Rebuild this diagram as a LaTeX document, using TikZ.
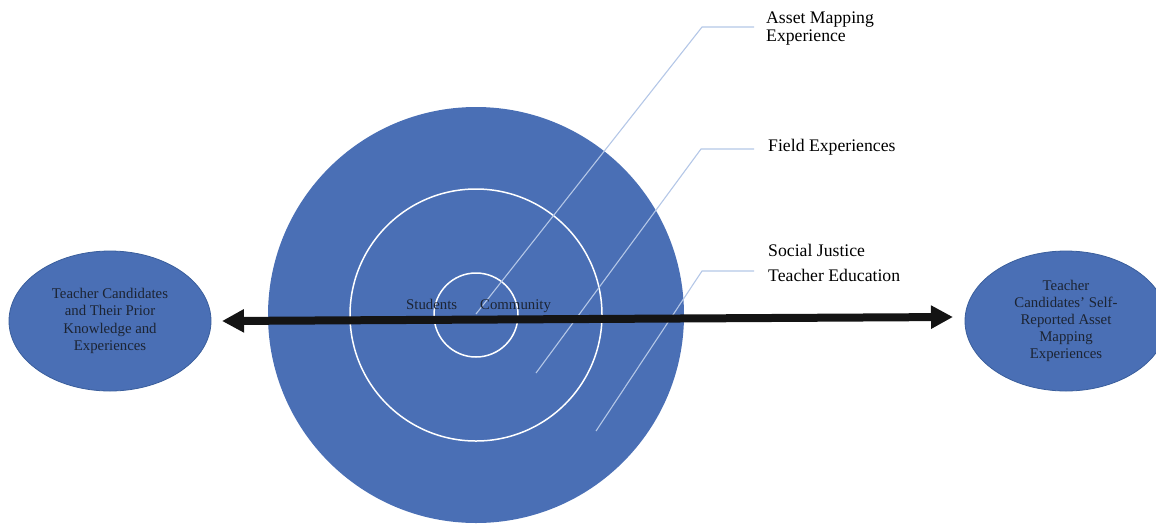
\documentclass[tikz,border=0pt]{standalone}
\usepackage{fontspec}
\setmainfont{Liberation Serif}
\usetikzlibrary{arrows.meta,shapes.geometric}
\definecolor{ringblue}{HTML}{4A6FB5}
\definecolor{edgeblue}{HTML}{3A5E9C}
\definecolor{leadercol}{HTML}{B4C7E7}
\definecolor{navytext}{HTML}{1C2433}
\definecolor{arrowcol}{HTML}{141414}
\begin{document}
\begin{tikzpicture}[x=1pt,y=-1pt,
  ring/.style={circle, draw=white, line width=1.5pt, inner sep=0pt},
  sidebox/.style={ellipse, fill=ringblue, draw=edgeblue, line width=0.8pt, inner sep=0pt,
    minimum width=202pt, minimum height=140pt, align=center, text=navytext,
    font=\fontsize{14.8}{17.2}\selectfont},
  innerlabel/.style={inner sep=0pt, anchor=base west, text=navytext,
    font=\fontsize{14.8}{17.2}\selectfont},
  sidelabel/.style={inner sep=0pt, anchor=west, align=left, text=black},
  leaderline/.style={draw=leadercol, line width=1.1pt},
  bigarrow/.style={draw=arrowcol, line width=8pt, {Triangle[length=22pt,width=22pt]}-{Triangle[length=22pt,width=22pt]}}
]
\useasboundingbox (0,0) rectangle (1156,523);
% target circles
\node[circle, fill=ringblue, minimum size=416pt, inner sep=0pt] (outer) at (476,315) {};
\node[ring, minimum size=252pt] (middle) at (476,315) {};
\node[ring, minimum size=84pt] (inner) at (476,315) {};
% leader lines
\coordinate (amEnd) at (476,314);
\coordinate (amBend) at (702,27);
\coordinate (amTip) at (754,27);
\coordinate (feEnd) at (536,373);
\coordinate (feBend) at (701,149);
\coordinate (feTip) at (754,149);
\coordinate (sjEnd) at (596,431);
\coordinate (sjBend) at (702,271);
\coordinate (sjTip) at (754,271);
\draw[leaderline] (amEnd) -- (amBend) -- (amTip);
\draw[leaderline] (feEnd) -- (feBend) -- (feTip);
\draw[leaderline] (sjEnd) -- (sjBend) -- (sjTip);
% labels
\node[sidelabel, font=\fontsize{17.7}{17.5}\selectfont] (am) at (766,28.5) {Asset Mapping\\Experience};
\node[sidelabel, anchor=base west, font=\fontsize{17.7}{21}\selectfont] (fe) at (768,151) {Field Experiences};
\node[sidelabel, font=\fontsize{17.7}{25}\selectfont] (sj) at (768,263) {Social Justice\\Teacher Education};
% side ellipses
\node[sidebox] (left) at (110,321) {Teacher Candidates\\and Their Prior\\Knowledge and\\Experiences};
\node[sidebox] (right) at (1066,321) {Teacher\\Candidates’ Self-\\Reported Asset\\Mapping\\Experiences};
% inner labels
\node[innerlabel] (students) at (406,309) {Students};
\node[innerlabel] (community) at (480,309) {Community};
% arrow
\coordinate (arrL) at (222,321);
\coordinate (arrR) at (953,317);
\draw[bigarrow] (arrL) -- (arrR);
\end{tikzpicture}
\end{document}
